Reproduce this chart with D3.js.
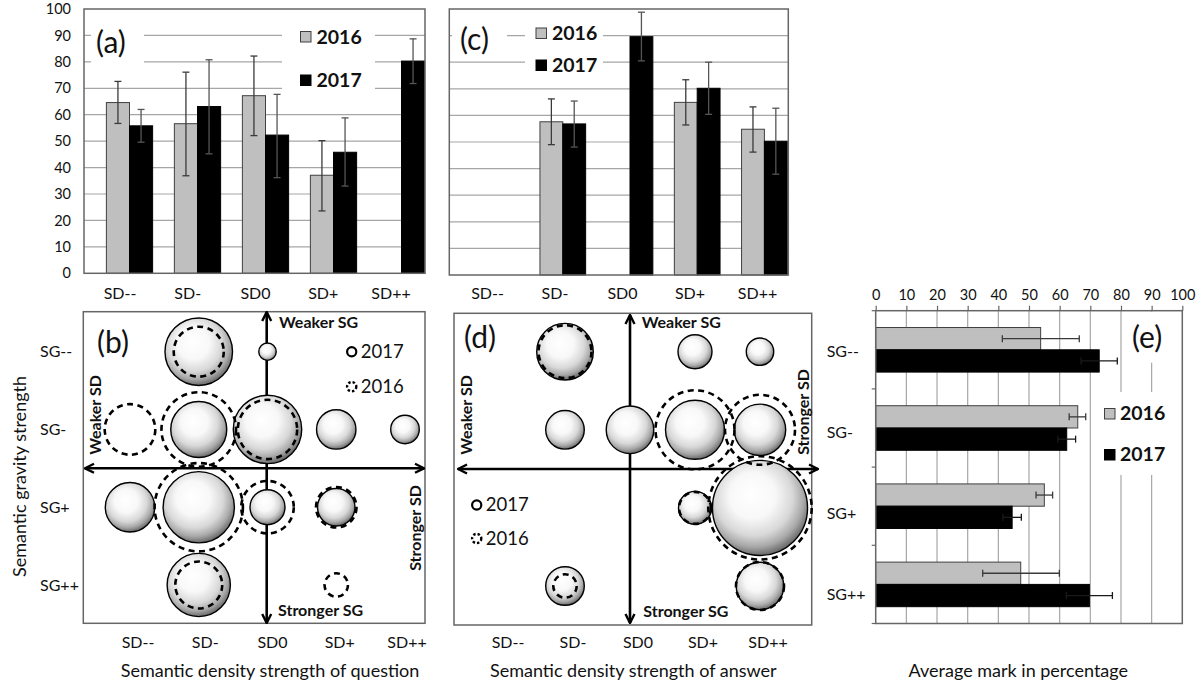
<!DOCTYPE html>
<html><head><meta charset="utf-8">
<script src="https://cdn.jsdelivr.net/npm/d3@7"></script>
<style>
body{margin:0;background:#fff}
svg{display:block}
text{font-family:Lato,'Open Sans',sans-serif;fill:#111}
</style>
</head><body>
<svg id="c" width="1199" height="686"></svg>
<script>
// ---------------- DATA ----------------
const sdCats = ["SD--","SD-","SD0","SD+","SD++"];
const sgCats = ["SG--","SG-","SG+","SG++"];
const years = ["2016","2017"];
const pctTicks = [0,10,20,30,40,50,60,70,80,90,100];

// (a) average mark by semantic density of question
const qMean2016  = [64.6, 56.6, 67.2, 37.1, null];
const qErrLo2016 = [56.7, 36.9, 52.1, 23.6, null];
const qErrHi2016 = [72.6, 76.1, 82.2, 50.2, null];
const qMean2017  = [55.8, 63.1, 52.3, 45.8, 80.3];
const qErrLo2017 = [49.6, 45.2, 36.2, 33.0, 71.8];
const qErrHi2017 = [62.0, 80.8, 67.7, 58.8, 88.7];

// (c) average mark by semantic density of answer
const aMean2016  = [null, 57.6, null, 64.9, 54.8];
const aErrLo2016 = [null, 49.0, null, 56.4, 46.2];
const aErrHi2016 = [null, 66.2, null, 73.4, 63.2];
const aMean2017  = [null, 56.8, 89.6, 70.2, 50.3];
const aErrLo2017 = [null, 48.1, 80.5, 60.4, 37.9];
const aErrHi2017 = [null, 65.4, 98.8, 80.0, 62.7];

// (e) average mark by semantic gravity
const gMean2016  = [53.8, 65.9, 55.0, 47.3];
const gErrLo2016 = [41.3, 63.1, 52.3, 34.9];
const gErrHi2016 = [66.4, 68.5, 57.7, 59.9];
const gMean2017  = [72.9, 62.3, 44.5, 69.7];
const gErrLo2017 = [67.0, 59.4, 41.5, 62.2];
const gErrHi2017 = [78.8, 65.2, 47.5, 77.2];

// (b) bubbles: [SG, SD, size 2017, size 2016]  (relative size units)
const qBubbles = [
  ["SG--","SD-",11.4,6.25],
  ["SG--","SD0",0.76,0],
  ["SG-","SD--",0,6.4],
  ["SG-","SD-",7.84,13.9],
  ["SG-","SD0",11.7,8.8],
  ["SG-","SD+",3.88,0],
  ["SG-","SD++",2.04,0],
  ["SG+","SD--",6.1,0],
  ["SG+","SD-",12.7,19.5],
  ["SG+","SD0",3.06,6.9],
  ["SG+","SD+",3.5,4.1],
  ["SG++","SD-",10.0,5.5],
  ["SG++","SD+",0,1.37]
];
// (d) bubbles
const aBubbles = [
  ["SG--","SD-",8.0,7.0],
  ["SG--","SD+",2.89,0],
  ["SG--","SD++",1.88,0],
  ["SG-","SD-",3.72,0],
  ["SG-","SD0",5.66,0],
  ["SG-","SD+",8.7,15.6],
  ["SG-","SD++",6.6,12.25],
  ["SG+","SD+",2.72,2.56],
  ["SG+","SD++",22.6,26.7],
  ["SG++","SD-",3.72,1.37],
  ["SG++","SD++",5.66,5.76]
];

// ---------------- DRAW ----------------
const svg = d3.select("#c");
const GREY = "#bfbfbf", GRID = "#a6a6a6", FRAME = "#666", ERR = "#3a3a3a";

const defs = svg.append("defs");
const grad = defs.append("radialGradient").attr("id","sphere")
  .attr("cx","45%").attr("cy","40%").attr("r","60%").attr("fx","40%").attr("fy","35%");
[[0,"#ffffff"],[0.4,"#f8f8f8"],[0.68,"#d8d8d8"],[0.86,"#a8a8a8"],[1,"#6a6a6a"]]
  .forEach(([o,c])=>grad.append("stop").attr("offset",o).attr("stop-color",c));
const mk = defs.append("marker").attr("id","arr").attr("viewBox","0 0 12 12")
  .attr("refX",11).attr("refY",6).attr("markerWidth",12).attr("markerHeight",12)
  .attr("markerUnits","userSpaceOnUse").attr("orient","auto-start-reverse");
mk.append("path").attr("d","M2,1.5 L11,6 L2,10.5").attr("fill","none")
  .attr("stroke","#000").attr("stroke-width",2.4).attr("stroke-linejoin","miter");

function sizeScale(){ return d3.scaleSqrt().domain([0,1]).range([0,10]); }

// ---- vertical bar chart panel ----
function barPanel(o){
  const g = svg.append("g");
  const y = d3.scaleLinear().domain([0,100]).range([o.y0, o.y100]);
  const x = d3.scaleBand().domain(sdCats).range(o.bandRange).paddingInner(0.32).paddingOuter(0.16);
  const xs = d3.scaleBand().domain(years).range([0, x.bandwidth()]);
  g.selectAll("line.grid").data(pctTicks.filter(t=>t>0&&t<100)).join("line")
    .attr("x1",o.left).attr("x2",o.right).attr("y1",d=>y(d)).attr("y2",d=>y(d))
    .attr("stroke",GRID).attr("stroke-width",1.2);
  o.boxes.forEach(b=>g.append("rect").attr("x",b[0]).attr("y",b[1]).attr("width",b[2]).attr("height",b[3]).attr("fill","#fff"));
  const series = [
    {yr:"2016", m:o.m16, lo:o.lo16, hi:o.hi16, fill:GREY, stroke:"#404040"},
    {yr:"2017", m:o.m17, lo:o.lo17, hi:o.hi17, fill:"#000", stroke:"#000"}
  ];
  series.forEach(s=>{
    const pts = sdCats.map((c,i)=>({c, m:s.m[i], lo:s.lo[i], hi:s.hi[i]})).filter(d=>d.m!=null);
    g.selectAll(null).data(pts).join("rect")
      .attr("x",d=>x(d.c)+xs(s.yr)).attr("width",xs.bandwidth())
      .attr("y",d=>y(d.m)).attr("height",d=>y(0)-y(d.m))
      .attr("fill",s.fill).attr("stroke",s.stroke).attr("stroke-width",1);
    const cx = d=>x(d.c)+xs(s.yr)+xs.bandwidth()/2;
    const eg = g.append("g").attr("stroke",s.yr==="2017"?"#555":ERR).attr("stroke-width",1.3);
    eg.selectAll(null).data(pts).join("line").attr("x1",cx).attr("x2",cx).attr("y1",d=>y(d.lo)).attr("y2",d=>y(d.hi));
    eg.selectAll(null).data(pts).join("line").attr("x1",d=>cx(d)-3.5).attr("x2",d=>cx(d)+3.5).attr("y1",d=>y(d.lo)).attr("y2",d=>y(d.lo));
    eg.selectAll(null).data(pts).join("line").attr("x1",d=>cx(d)-3.5).attr("x2",d=>cx(d)+3.5).attr("y1",d=>y(d.hi)).attr("y2",d=>y(d.hi));
  });
  g.append("rect").attr("x",o.left).attr("y",o.y100).attr("width",o.right-o.left).attr("height",o.y0-o.y100)
    .attr("fill","none").attr("stroke",FRAME).attr("stroke-width",1.5);
  if(o.yAxis){
    const ax = g.append("g").attr("transform",`translate(${o.left},0)`)
      .call(d3.axisLeft(y).tickValues(pctTicks).tickSize(0).tickPadding(13));
    ax.select(".domain").remove();
    ax.selectAll("text").style("font-family","Lato,'Open Sans',sans-serif").style("font-size","14.5px").attr("fill","#222");
  }
  const xl = d3.scalePoint().domain(sdCats).range(o.labelRange);
  g.selectAll(null).data(sdCats).join("text").attr("x",d=>xl(d)).attr("y",298.5)
    .attr("text-anchor","middle").style("font-size","16px").text(d=>d);
  g.append("text").attr("x",o.tag[0]).attr("y",o.tag[1]).style("font-size","30px").text(o.tag[2]);
  years.forEach((yr,i)=>{
    const ly = o.leg[1] + i*o.leg[2];
    g.append("rect").attr("x",o.leg[0]).attr("y",ly-10.5).attr("width",10.5).attr("height",10.5)
      .attr("fill",yr==="2016"?GREY:"#000").attr("stroke",yr==="2016"?"#404040":"#000").attr("stroke-width",1);
    g.append("text").attr("x",o.leg[0]+16).attr("y",ly+1.5).style("font-size","19.5px").style("font-weight","bold").text(yr);
  });
}

barPanel({left:84, right:425, y0:273.3, y100:9, bandRange:[95.5,435.5], yAxis:true,
  m16:qMean2016, lo16:qErrLo2016, hi16:qErrHi2016, m17:qMean2017, lo17:qErrLo2017, hi17:qErrHi2017,
  labelRange:[120,391], tag:[96,53,"(a)"], leg:[300.5,42,43.5],
  boxes:[[91,22,53,48],[282,22,93,72]]});
barPanel({left:449.3, right:788.3, y0:275, y100:9, bandRange:[462,798], yAxis:false,
  m16:aMean2016, lo16:aErrLo2016, hi16:aErrHi2016, m17:aMean2017, lo17:aErrLo2017, hi17:aErrHi2017,
  labelRange:[487.5,757.5], tag:[460,50,"(c)"], leg:[536,38.5,32],
  boxes:[[452,22,55,26],[525,22,78,55]]});

// ---- bubble panel ----
function bubblePanel(o){
  const g = svg.append("g");
  const x = d3.scalePoint().domain(sdCats).range(o.colRange);
  const y = d3.scalePoint().domain(sgCats).range(o.rowRange);
  const r = sizeScale();
  g.append("rect").attr("x",o.frame[0]).attr("y",o.frame[1]).attr("width",o.frame[2]-o.frame[0]).attr("height",o.frame[3]-o.frame[1])
    .attr("fill","none").attr("stroke",FRAME).attr("stroke-width",1.5);
  g.append("line").attr("x1",o.hArrow[0]).attr("x2",o.hArrow[1]).attr("y1",o.hY).attr("y2",o.hY)
    .attr("stroke","#000").attr("stroke-width",2.6).attr("marker-start","url(#arr)").attr("marker-end","url(#arr)");
  g.append("line").attr("x1",o.vX).attr("x2",o.vX).attr("y1",o.vArrow[0]).attr("y2",o.vArrow[1])
    .attr("stroke","#000").attr("stroke-width",2.6).attr("marker-start","url(#arr)").attr("marker-end","url(#arr)");
  g.selectAll(null).data(o.data.filter(d=>d[2]>0)).join("circle")
    .attr("cx",d=>x(d[1])).attr("cy",d=>y(d[0])).attr("r",d=>r(d[2]))
    .attr("fill","url(#sphere)").attr("stroke","#000").attr("stroke-width",1.4);
  g.selectAll(null).data(o.data.filter(d=>d[3]>0)).join("circle")
    .attr("cx",d=>x(d[1])).attr("cy",d=>y(d[0])).attr("r",d=>r(d[3]))
    .attr("fill","none").attr("stroke","#000").attr("stroke-width",2.6).attr("stroke-dasharray","6,4.5");
  const bold = (t,xx,yy,rot)=>{
    const tx = g.append("text").style("font-size","16px").style("font-weight","bold").text(t);
    if(rot) tx.attr("transform",`translate(${xx},${yy}) rotate(-90)`).attr("text-anchor","middle").attr("dy","0.35em");
    else tx.attr("x",xx).attr("y",yy);
  };
  bold("Weaker SG", o.wsg[0], o.wsg[1]);
  bold("Stronger SG", o.ssg[0], o.ssg[1]);
  bold("Weaker SD", o.wsd[0], o.wsd[1], true);
  bold("Stronger SD", o.ssd[0], o.ssd[1], true);
  g.append("text").attr("x",o.tag[0]).attr("y",o.tag[1]).style("font-size","30px").text(o.tag[2]);
  g.append("circle").attr("cx",o.leg[0]).attr("cy",o.leg[1]).attr("r",4.6).attr("fill","none").attr("stroke","#000").attr("stroke-width",2.2);
  g.append("text").attr("x",o.leg[0]+9).attr("y",o.leg[1]+6).style("font-size","18.5px").text("2017");
  g.append("circle").attr("cx",o.leg[0]).attr("cy",o.leg[1]+o.leg[2]).attr("r",4.6).attr("fill","none").attr("stroke","#000").attr("stroke-width",2.4).attr("stroke-dasharray","2.4,2");
  g.append("text").attr("x",o.leg[0]+9).attr("y",o.leg[1]+o.leg[2]+6).style("font-size","18.5px").text("2016");
  const xl = d3.scalePoint().domain(sdCats).range(o.labelRange);
  g.selectAll(null).data(sdCats).join("text").attr("x",d=>xl(d)).attr("y",647.5)
    .attr("text-anchor","middle").style("font-size","16px").text(d=>d);
  g.append("text").attr("x",o.title[0]).attr("y",677).attr("text-anchor","middle").style("font-size","18px").text(o.title[1]);
  return {y};
}

const pb = bubblePanel({data:qBubbles, colRange:[130,405], rowRange:[351.7,585], frame:[83.3,311.7,425,623.3],
  hArrow:[85,424], hY:468.3, vX:266.7, vArrow:[312,623],
  wsg:[279,328], ssg:[278,616], wsd:[95,415], ssd:[415,528], tag:[97,353,"(b)"], leg:[351.7,351.7,35],
  labelRange:[138,407], title:[270,"Semantic density strength of question"]});
bubblePanel({data:aBubbles, colRange:[500,760], rowRange:[351.7,586], frame:[454,313.3,811.7,625],
  hArrow:[458,818], hY:469, vX:630, vArrow:[315,623],
  wsg:[641.7,328.3], ssg:[643.3,617.3], wsd:[466.7,415], ssd:[803,412], tag:[464,348,"(d)"], leg:[476.7,505,33.5],
  labelRange:[508,768], title:[633.3,"Semantic density strength of answer"]});

svg.append("g").selectAll("text").data(sgCats).join("text")
  .attr("x",40).attr("y",d=>pb.y(d)+5.5).style("font-size","16px").text(d=>d);
svg.append("text").attr("transform","translate(20,476.5) rotate(-90)").attr("text-anchor","middle")
  .attr("dy","0.35em").style("font-size","18px").text("Semantic gravity strength");

// ---- (e) horizontal bar chart ----
(function(){
  const g = svg.append("g");
  const L=875.7, R=1182.3, T=310.7, B=623.5;
  const x = d3.scaleLinear().domain([0,100]).range([L,R]);
  const y = d3.scaleBand().domain(sgCats).range([T,B]).paddingInner(0.43).paddingOuter(0.215);
  const ys = d3.scaleBand().domain(years).range([0,y.bandwidth()]);
  g.selectAll(null).data(pctTicks.filter(t=>t>0&&t<100)).join("line")
    .attr("x1",d=>x(d)).attr("x2",d=>x(d)).attr("y1",T).attr("y2",B).attr("stroke",GRID).attr("stroke-width",1.2);
  g.append("rect").attr("x",1125).attr("y",T+1).attr("width",55).attr("height",51).attr("fill","#fff");
  g.append("rect").attr("x",1098).attr("y",392).attr("width",82).attr("height",83).attr("fill","#fff");
  const series = [
    {yr:"2016", m:gMean2016, lo:gErrLo2016, hi:gErrHi2016, fill:GREY, stroke:"#404040", err:ERR},
    {yr:"2017", m:gMean2017, lo:gErrLo2017, hi:gErrHi2017, fill:"#000", stroke:"#000", err:"#1a1a1a"}
  ];
  series.forEach(s=>{
    const pts = sgCats.map((c,i)=>({c, m:s.m[i], lo:s.lo[i], hi:s.hi[i]}));
    g.selectAll(null).data(pts).join("rect")
      .attr("y",d=>y(d.c)+ys(s.yr)).attr("height",ys.bandwidth())
      .attr("x",x(0)).attr("width",d=>x(d.m)-x(0))
      .attr("fill",s.fill).attr("stroke",s.stroke).attr("stroke-width",1);
    const cy = d=>y(d.c)+ys(s.yr)+ys.bandwidth()/2;
    const eg = g.append("g").attr("stroke",s.err).attr("stroke-width",1.3);
    eg.selectAll(null).data(pts).join("line").attr("y1",cy).attr("y2",cy).attr("x1",d=>x(d.lo)).attr("x2",d=>x(d.hi));
    eg.selectAll(null).data(pts).join("line").attr("y1",d=>cy(d)-3.5).attr("y2",d=>cy(d)+3.5).attr("x1",d=>x(d.lo)).attr("x2",d=>x(d.lo));
    eg.selectAll(null).data(pts).join("line").attr("y1",d=>cy(d)-3.5).attr("y2",d=>cy(d)+3.5).attr("x1",d=>x(d.hi)).attr("x2",d=>x(d.hi));
  });
  g.append("rect").attr("x",L).attr("y",T).attr("width",R-L).attr("height",B-T)
    .attr("fill","none").attr("stroke",FRAME).attr("stroke-width",1.5);
  const ax = g.append("g").attr("transform",`translate(0,${T})`)
    .call(d3.axisTop(x).tickValues(pctTicks).tickSize(5).tickPadding(6));
  ax.select(".domain").remove();
  ax.selectAll("line").attr("stroke",FRAME).attr("stroke-width",1.2);
  ax.selectAll("text").style("font-family","Lato,'Open Sans',sans-serif").style("font-size","14.5px").attr("fill","#222");
  const bounds = sgCats.map(c=>y(c)-y.step()*0.215).concat([B]);
  g.selectAll(null).data(bounds).join("line").attr("x1",L-4).attr("x2",L).attr("y1",d=>d).attr("y2",d=>d)
    .attr("stroke",FRAME).attr("stroke-width",1.2);
  const yl = d3.scalePoint().domain(sgCats).range([351.7,594]);
  g.selectAll(null).data(sgCats).join("text").attr("x",826.7).attr("y",d=>yl(d)+5.5).style("font-size","16px").text(d=>d);
  g.append("text").attr("x",1132).attr("y",348).style("font-size","30px").text("(e)");
  years.forEach((yr,i)=>{
    const ly = 419 + i*41;
    g.append("rect").attr("x",1104.5).attr("y",ly-10.5).attr("width",10.5).attr("height",10.5)
      .attr("fill",yr==="2016"?GREY:"#000").attr("stroke",yr==="2016"?"#404040":"#000").attr("stroke-width",1);
    g.append("text").attr("x",1120).attr("y",ly+1).style("font-size","19.5px").style("font-weight","bold").text(yr);
  });
  g.append("text").attr("x",1018.3).attr("y",677).attr("text-anchor","middle").style("font-size","18px").text("Average mark in percentage");
})();
</script>
</body></html>
